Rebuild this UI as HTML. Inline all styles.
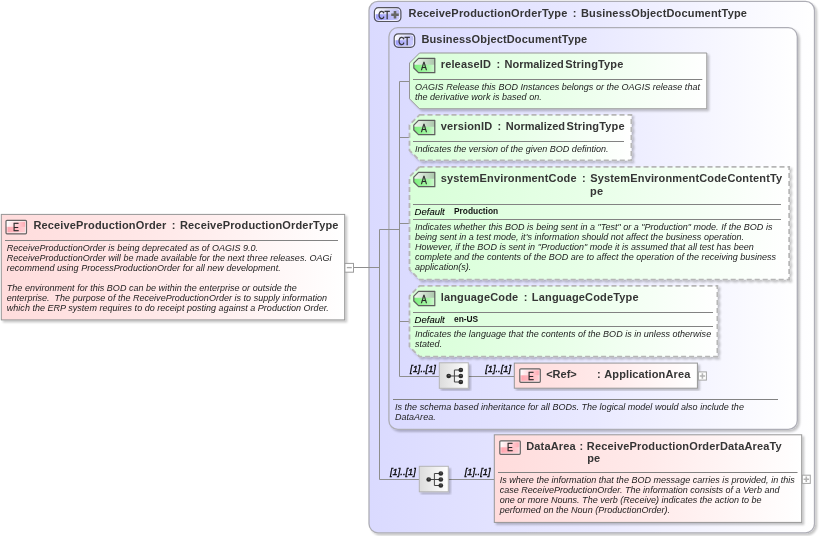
<!DOCTYPE html>
<html><head><meta charset="utf-8">
<style>
html,body{margin:0;padding:0;background:#fff;}
body{width:819px;height:536px;position:relative;overflow:hidden;font-family:"Liberation Sans",sans-serif;}
svg{position:absolute;left:0;top:0;}
.t{position:absolute;font-weight:bold;font-size:11px;line-height:13px;white-space:nowrap;color:#353535;letter-spacing:.16px;word-spacing:1.1px;}
.d{position:absolute;font-style:italic;font-size:9px;line-height:10px;white-space:nowrap;color:#1c1c1c;letter-spacing:.02px;}
.card{position:absolute;font-style:italic;font-size:9.3px;line-height:10px;white-space:nowrap;color:#000;-webkit-text-stroke:.3px #000;}
.dl{position:absolute;font-style:italic;font-size:9.5px;line-height:10px;white-space:nowrap;color:#000;-webkit-text-stroke:.08px #000;}
.dv{position:absolute;font-size:9px;line-height:10px;font-weight:bold;white-space:nowrap;color:#111;transform:scaleX(.93);transform-origin:0 50%;}
.ic{position:absolute;font-size:11px;line-height:12px;white-space:nowrap;color:#2a2a2a;text-align:center;-webkit-text-stroke:.3px #2a2a2a;transform:scaleX(.8);transform-origin:50% 50%;}
</style></head><body>
<svg width="819" height="536" viewBox="0 0 819 536">
<defs>
 <linearGradient id="gct" x1="0" y1="0" x2="1" y2="0"><stop offset="0" stop-color="#dadaff"/><stop offset=".5" stop-color="#e9e9ff"/><stop offset="1" stop-color="#ffffff"/></linearGradient>
 <linearGradient id="gel" x1="0" y1="0" x2="1" y2="0"><stop offset="0" stop-color="#ffdcdc"/><stop offset=".5" stop-color="#ffeaea"/><stop offset="1" stop-color="#ffffff"/></linearGradient>
 <linearGradient id="gat" x1="0" y1="0" x2="1" y2="0"><stop offset="0" stop-color="#d8ffd8"/><stop offset=".5" stop-color="#e9ffe9"/><stop offset="1" stop-color="#ffffff"/></linearGradient>
 <linearGradient id="gseq" x1="0" y1="0" x2="1" y2="0"><stop offset="0" stop-color="#dcdcdc"/><stop offset="1" stop-color="#ffffff"/></linearGradient>
 <linearGradient id="iel" x1="0" y1="0" x2="1" y2="1"><stop offset="0" stop-color="#ffffff"/><stop offset=".55" stop-color="#ffb0b8"/><stop offset="1" stop-color="#ffd0d4"/></linearGradient>
 <linearGradient id="iat" x1="0" y1="0" x2="1" y2="1"><stop offset="0" stop-color="#ffffff"/><stop offset=".55" stop-color="#8fe08f"/><stop offset="1" stop-color="#c8f5c8"/></linearGradient>
 <linearGradient id="ict" x1="0" y1="0" x2="1" y2="1"><stop offset="0" stop-color="#ffffff"/><stop offset=".55" stop-color="#a8a8f4"/><stop offset="1" stop-color="#c8c8fa"/></linearGradient>
 <linearGradient id="elT" x1="0" y1="0" x2="1" y2="0"><stop offset="0" stop-color="#ffffff"/><stop offset="1" stop-color="#ffa6b0"/></linearGradient>
 <linearGradient id="elB" x1="0" y1="0" x2="1" y2="0"><stop offset="0" stop-color="#ffa2ac"/><stop offset="1" stop-color="#ffd2d6"/></linearGradient>
 <linearGradient id="atT" x1="0" y1="0" x2="1" y2="0"><stop offset="0" stop-color="#f2f8f2"/><stop offset="1" stop-color="#a9c6a9"/></linearGradient>
 <linearGradient id="atB" x1="0" y1="0" x2="1" y2="0"><stop offset="0" stop-color="#7cf07c"/><stop offset=".7" stop-color="#a8f5a8"/><stop offset="1" stop-color="#d2f8d2"/></linearGradient>
 <linearGradient id="ctT" x1="0" y1="0" x2="1" y2="0"><stop offset="0" stop-color="#ffffff"/><stop offset="1" stop-color="#b4b4f4"/></linearGradient>
 <linearGradient id="ctB" x1="0" y1="0" x2="1" y2="0"><stop offset="0" stop-color="#9a9af8"/><stop offset="1" stop-color="#d0d0ff"/></linearGradient>
 <symbol id="icoE" overflow="visible"><rect x="0" y="0" width="20.5" height="7" fill="url(#elT)"/><rect x="0" y="6.5" width="20.5" height="7" fill="url(#elB)"/><rect x="1" y="1" width="18.5" height="11.5" fill="none" stroke="#fff" stroke-opacity=".7"/><rect x="0" y="0" width="20.5" height="13.5" rx="1" fill="none" stroke="#666" stroke-width="1.2"/></symbol>
 <symbol id="icoA" overflow="visible"><path d="M4.7 0H21V7H0V4.9Z" fill="url(#atT)"/><path d="M0 6.5H21V14.4H4.7L0 9.7Z" fill="url(#atB)"/><path d="M4.7 0H21V14.4H4.7L0 9.7V4.9Z" fill="none" stroke="#5c5c5c" stroke-width="1.2" stroke-linejoin="round"/></symbol>
 <symbol id="icoCT" overflow="visible"><rect x="0" y="0" width="20.5" height="13.5" rx="4" fill="url(#ctT)"/><path d="M0 6.5H20.5V9.5a4 4 0 0 1 -4 4H4a4 4 0 0 1 -4 -4Z" fill="url(#ctB)"/><rect x="1" y="1" width="18.5" height="11.5" rx="3.2" fill="none" stroke="#fff" stroke-opacity=".75"/><rect x="0" y="0" width="20.5" height="13.5" rx="4" fill="none" stroke="#55555c" stroke-width="1.2"/></symbol>
 <symbol id="icoCTP" overflow="visible"><rect x="0" y="0" width="26.5" height="13.8" rx="4" fill="url(#ctT)"/><path d="M0 6.5H26.5V9.8a4 4 0 0 1 -4 4H4a4 4 0 0 1 -4 -4Z" fill="url(#ctB)"/><rect x="1" y="1" width="24.5" height="11.8" rx="3.2" fill="none" stroke="#fff" stroke-opacity=".75"/><rect x="0" y="0" width="26.5" height="13.8" rx="4" fill="none" stroke="#55555c" stroke-width="1.2"/><path d="M20.6 3.3V10.9M16.8 7.1H24.4" stroke="#666" stroke-width="2.6" fill="none"/></symbol>
 <filter id="sh" x="-5%" y="-5%" width="115%" height="115%"><feGaussianBlur in="SourceAlpha" stdDeviation="1.3"/><feOffset dx="2.4" dy="2.4"/><feComponentTransfer><feFuncA type="linear" slope=".23"/></feComponentTransfer><feMerge><feMergeNode/><feMergeNode in="SourceGraphic"/></feMerge></filter>
</defs>

<!-- left element -->
<rect x="1.3" y="214.4" width="343.4" height="105.5" fill="url(#gel)" stroke="#969696" filter="url(#sh)"/>
<use href="#icoE" x="6" y="220.3"/>
<path d="M5 240.5H338" stroke="#828282"/>
<rect x="344.9" y="263.4" width="8.6" height="8.8" fill="#fff" stroke="#9c9c9c"/>
<path d="M346.8 267.6H351.8" stroke="#a8a8a8" stroke-width="1.3"/>

<!-- outer CT -->
<rect x="369" y="1.3" width="445.5" height="531.5" rx="9" fill="url(#gct)" stroke="#aeaeb6" stroke-width="1.3" filter="url(#sh)"/>
<use href="#icoCTP" x="374.4" y="7.7"/>
<!-- inner CT -->
<rect x="388.9" y="27.7" width="408.4" height="401.7" rx="9" fill="url(#gct)" stroke="#aeaeb6" stroke-width="1.3" filter="url(#sh)"/>
<use href="#icoCT" x="394.2" y="33.8"/>

<!-- connectors -->
<g stroke="#8e8e8e" fill="none">
 <path d="M354 267.5H379.5"/>
 <path d="M379.5 229.5V479.5H419"/>
 <path d="M379.5 229.5H399.5"/>
 <path d="M399.5 81.5V376.5H439"/>
 <path d="M399.5 81.5H409.5"/>
 <path d="M399.5 137.5H409.5"/>
 <path d="M399.5 223.5H409.5"/>
 <path d="M399.5 321.5H409.5"/>
 <path d="M468 376.5H514"/>
 <path d="M448 479.5H494"/>
</g>

<!-- releaseID -->
<path d="M419.5 53H706.8V108.8H419.5L409.5 98.8V63Z" fill="url(#gat)" stroke="#969696" filter="url(#sh)"/>
<use href="#icoA" x="413.8" y="58.3"/>
<path d="M413 79.5H702.3" stroke="#828282"/>
<!-- versionID -->
<path d="M419.5 114.9H631.4V160.4H419.5L409.5 150.4V124.9Z" fill="url(#gat)" stroke="#b6b6b6" stroke-width="1.8" stroke-dasharray="5 3" filter="url(#sh)"/>
<use href="#icoA" x="413.8" y="120.3"/>
<path d="M413 141.5H624" stroke="#828282"/>
<!-- systemEnvironmentCode -->
<path d="M419.5 166.8H789.2V279.6H419.5L409.5 269.6V176.8Z" fill="url(#gat)" stroke="#b6b6b6" stroke-width="1.8" stroke-dasharray="5 3" filter="url(#sh)"/>
<use href="#icoA" x="413.8" y="172.3"/>
<path d="M413 204.5H781M413 219.5H781" stroke="#828282"/>
<!-- languageCode -->
<path d="M419.5 285.9H717.4V356.7H419.5L409.5 346.7V295.9Z" fill="url(#gat)" stroke="#b6b6b6" stroke-width="1.8" stroke-dasharray="5 3" filter="url(#sh)"/>
<use href="#icoA" x="413.8" y="291.3"/>
<path d="M413 312.5H713M413 326.5H713" stroke="#828282"/>

<!-- sequence 1 -->
<rect x="439.3" y="362.8" width="29" height="25.5" fill="url(#gseq)" stroke="#b4b4b4" filter="url(#sh)"/>
<g id="seqicon1">
 <path d="M448.7 376H460.8M454.4 370V382M454.4 370H460.8M454.4 382H460.8" fill="none" stroke="#444" stroke-width="1"/>
 <g fill="#2c2c2c"><circle cx="448.7" cy="376" r="2.35"/><circle cx="460.8" cy="370" r="2.35"/><circle cx="460.8" cy="376" r="2.35"/><circle cx="460.8" cy="382" r="2.35"/></g>
 <g fill="#6a6a6a"><circle cx="448.9" cy="375.5" r=".7"/><circle cx="461" cy="369.5" r=".7"/><circle cx="461" cy="375.5" r=".7"/><circle cx="461" cy="381.5" r=".7"/></g>
</g>
<!-- ApplicationArea -->
<rect x="514.3" y="363.1" width="183.1" height="25.1" fill="url(#gel)" stroke="#969696" filter="url(#sh)"/>
<use href="#icoE" x="519.8" y="368.8"/>
<rect x="698.4" y="371.9" width="8" height="8.2" fill="#fff" stroke="#a4a4a4"/>
<path d="M699.7 376H705.1M702.4 373.3V378.7" stroke="#b4b4b4" stroke-width="1.6"/>
<path d="M393 399.5H778" stroke="#828282"/>

<!-- sequence 2 -->
<rect x="419.3" y="466.3" width="29" height="25.5" fill="url(#gseq)" stroke="#b4b4b4" filter="url(#sh)"/>
<use href="#seqicon1" x="-20" y="103.5"/>
<!-- DataArea -->
<rect x="494.3" y="434.8" width="307.4" height="87.6" fill="url(#gel)" stroke="#969696" filter="url(#sh)"/>
<use href="#icoE" x="499.8" y="440.8"/>
<path d="M498 472.5H797.5" stroke="#828282"/>
<rect x="802.3" y="475.2" width="8" height="8.2" fill="#fff" stroke="#a4a4a4"/>
<path d="M803.6 479.3H809M806.3 476.6V482" stroke="#b4b4b4" stroke-width="1.6"/>
</svg>

<div id="txt" style="position:absolute;left:0;top:0;width:819px;height:536px;opacity:.999;">
<!-- icon letters -->
<div class="ic" style="left:6.1px;top:221px;width:20px;">E</div>
<div class="ic" style="left:520.7px;top:369.7px;width:20px;">E</div>
<div class="ic" style="left:500.2px;top:441.3px;width:20px;">E</div>
<div class="ic" style="left:373.9px;top:8.6px;width:20px;">CT</div>
<div class="ic" style="left:394.2px;top:34.5px;width:20px;">CT</div>
<div class="ic" style="left:414.4px;top:59.5px;width:20px;">A</div>
<div class="ic" style="left:414.4px;top:121.5px;width:20px;">A</div>
<div class="ic" style="left:414.4px;top:173.5px;width:20px;">A</div>
<div class="ic" style="left:414.4px;top:292.5px;width:20px;">A</div>

<!-- titles -->
<div class="t" style="left:33.4px;top:219.3px;">ReceiveProductionOrder<span style="margin-left:1px"> : ReceiveProductionOrderType</span></div>
<div class="t" style="left:408.6px;top:7.1px;letter-spacing:.17px;">ReceiveProductionOrderType<span style="margin-left:1px"> : BusinessObjectDocumentType</span></div>
<div class="t" style="left:421.4px;top:33.3px;">BusinessObjectDocumentType</div>
<div class="t" style="left:440.7px;top:58.0px;">releaseID<span style="margin-left:1px"> : <span style="letter-spacing:0">Normalize</span>d<span style="margin-left:1.3px">StringType</span></span></div>
<div class="t" style="left:440.7px;top:120.0px;">versionID<span style="margin-left:1px"> : <span style="letter-spacing:0">Normalize</span>d<span style="margin-left:1.3px">StringType</span></span></div>
<div class="t" style="left:440.7px;top:172.3px;">systemEnvironmentCode<span style="margin-left:1px"> : SystemEnvironmentCodeContentTy</span></div>
<div class="t" style="left:590px;top:184.6px;">pe</div>
<div class="t" style="left:440.7px;top:291.2px;">languageCode<span style="margin-left:1px"> : LanguageCodeType</span></div>
<div class="t" style="left:546.2px;top:367.9px;letter-spacing:0;">&lt;Ref&gt;</div>
<div class="t" style="left:596.9px;top:367.9px;letter-spacing:.12px;word-spacing:.8px;">: ApplicationArea</div>
<div class="t" style="left:526.2px;top:439.5px;word-spacing:.4px;">DataArea : ReceiveProductionOrderDataAreaTy</div>
<div class="t" style="left:587.2px;top:452.3px;">pe</div>

<!-- descriptions -->
<div class="d" style="left:6.8px;top:243.4px;">ReceiveProductionOrder is being deprecated as of OAGIS 9.0.<br>ReceiveProductionOrder will be made available for the next three releases. OAGi<br>recommend using ProcessProductionOrder for all new development.<br><br>The environment for this BOD can be within the enterprise or outside the<br>enterprise.&nbsp; The purpose of the ReceiveProductionOrder is to supply information<br>which the ERP system requires to do receipt posting against a Production Order.</div>
<div class="d" style="left:415px;top:82.0px;">OAGIS Release this BOD Instances belongs or the OAGIS release that<br>the derivative work is based on.</div>
<div class="d" style="left:415px;top:144.0px;">Indicates the version of the given BOD defintion.</div>
<div class="dl" style="left:414.6px;top:206.9px;">Default</div><div class="dv" style="left:454px;top:206px;">Production</div>
<div class="d" style="left:415px;top:222.0px;">Indicates whether this BOD is being sent in a "Test" or a "Production" mode. If the BOD is<br>being sent in a test mode, it's information should not affect the business operation.<br>However, if the BOD is sent in "Production" mode it is assumed that all test has been<br>complete and the contents of the BOD are to affect the operation of the receiving business<br>application(s).</div>
<div class="dl" style="left:414.6px;top:314.9px;">Default</div><div class="dv" style="left:454px;top:314px;">en-US</div>
<div class="d" style="left:415px;top:328.9px;">Indicates the language that the contents of the BOD is in unless otherwise<br>stated.</div>
<div class="d" style="left:395px;top:402.0px;">Is the schema based inheritance for all BODs. The logical model would also include the<br>DataArea.</div>
<div class="d" style="left:499.7px;top:475.2px;">Is where the information that the BOD message carries is provided, in this<br>case ReceiveProductionOrder. The information consists of a Verb and<br>one or more Nouns. The verb (Receive) indicates the action to be<br>performed on the Noun (ProductionOrder).</div>

<!-- cardinalities -->
<div class="card" style="left:410.1px;top:363.6px;">[1]..[1]</div>
<div class="card" style="left:485.2px;top:363.6px;">[1]..[1]</div>
<div class="card" style="left:390px;top:467.2px;">[1]..[1]</div>
<div class="card" style="left:464.7px;top:467.2px;">[1]..[1]</div>
</div>
</body></html>
